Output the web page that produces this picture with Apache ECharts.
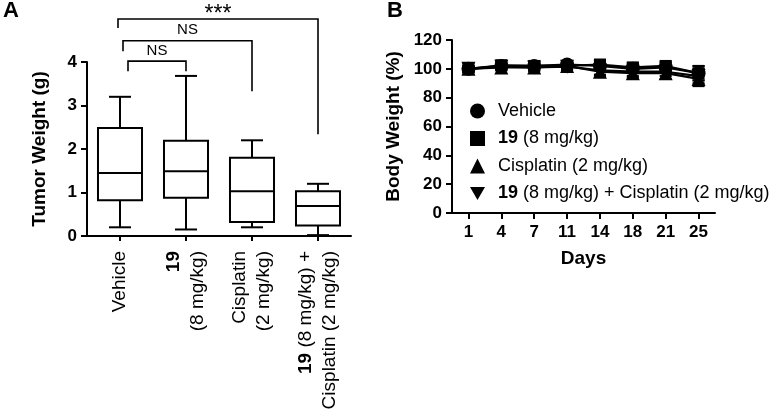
<!DOCTYPE html>
<html><head><meta charset="utf-8">
<script src="https://cdn.jsdelivr.net/npm/echarts@6/dist/echarts.min.js"></script>
<style>html,body{margin:0;padding:0;background:#fff}#c{width:778px;height:418px}</style>
</head><body><div id="c"></div>
<script>
// ---- Panel A data ----
const groups = ['Vehicle', '19\n(8 mg/kg)', 'Cisplatin\n(2 mg/kg)', '19 (8 mg/kg) +\nCisplatin (2 mg/kg)'];
// [min, Q1, median, Q3, max]
const vehicleBox   = [0.2, 0.82, 1.45, 2.48, 3.2];
const cpd19Box     = [0.15, 0.88, 1.49, 2.19, 3.68];
const cisplatinBox = [0.2, 0.32, 1.03, 1.8, 2.2];
const comboBox     = [0.02, 0.24, 0.69, 1.03, 1.2];
const tumorTicks = [0, 1, 2, 3, 4];
// brackets: [fromIdx, toIdx, barY, leftLegEndY, rightLegEndY]
const bracketNS1  = [0, 1, 4.02, 3.79, 3.79];
const bracketNS2  = [0, 2, 4.49, 4.25, 3.33];
const bracketSig  = [0, 3, 4.99, 4.78, 2.34];
const bracketText = ['NS', 'NS', '***'];

// ---- Panel B data ----
const days = ['1', '4', '7', '11', '14', '18', '21', '25'];
const vehicleBW   = [100, 102, 102, 103, 102, 100, 101, 97];
const cpd19BW     = [100, 102.5, 102, 102, 103, 101, 102, 97];
const cisplatinBW = [100, 101, 101, 102, 98, 97, 97, 93];
const comboBW     = [100, 101.5, 101, 101.5, 99, 98, 98, 95];
const vehicleSD   = [2, 2, 2, 2, 3, 3, 3, 5];
const cpd19SD     = [2, 2, 2, 2, 3, 3, 3, 5];
const cisplatinSD = [2, 2, 2, 2, 3, 3, 4, 5];
const comboSD     = [2, 2, 2, 2, 3, 3, 3, 5];
const bwNames = ['Vehicle', '19 (8 mg/kg)', 'Cisplatin (2 mg/kg)', '19 (8 mg/kg) + Cisplatin (2 mg/kg)'];

const FONT = 'Liberation Sans, Arial, Helvetica, sans-serif';
const INV_TRI = 'path://M0,0L10,0L5,8.66Z';

const chart = echarts.init(document.getElementById('c'), null, {renderer: 'canvas'});

const boxes = [vehicleBox, cpd19Box, cisplatinBox, comboBox];
const brackets = [bracketNS1, bracketNS2, bracketSig];
const bracketLeftOffset = [8, 3, -2];

function boxRender(params, api) {
  const i = api.value(0);
  const cx = api.coord([i, 0])[0];
  const bw = api.size([1, 0])[0] * 0.667;
  const y = k => api.coord([i, api.value(k)])[1];
  const yMin = y(1), yQ1 = y(2), yMed = y(3), yQ3 = y(4), yMax = y(5);
  const st = {stroke: '#000', lineWidth: 2, fill: null};
  const cap = bw / 4;
  return {type: 'group', children: [
    {type: 'line', shape: {x1: cx, y1: yQ3, x2: cx, y2: yMax}, style: st},
    {type: 'line', shape: {x1: cx, y1: yQ1, x2: cx, y2: yMin}, style: st},
    {type: 'line', shape: {x1: cx - cap, y1: yMax, x2: cx + cap, y2: yMax}, style: st},
    {type: 'line', shape: {x1: cx - cap, y1: yMin, x2: cx + cap, y2: yMin}, style: st},
    {type: 'rect', shape: {x: cx - bw / 2, y: yQ3, width: bw, height: yQ1 - yQ3}, style: {stroke: '#000', lineWidth: 2, fill: '#fff'}},
    {type: 'line', shape: {x1: cx - bw / 2, y1: yMed, x2: cx + bw / 2, y2: yMed}, style: st}
  ]};
}

function bracketRender(params, api) {
  const idx = params.dataIndex;
  const a = api.value(0), b = api.value(1);
  const xl = api.coord([a, 0])[0] + bracketLeftOffset[idx];
  const xr = api.coord([b, 0])[0];
  const yb = api.coord([a, api.value(2)])[1];
  const yl = api.coord([a, api.value(3)])[1];
  const yr = api.coord([a, api.value(4)])[1];
  const st = {stroke: '#000', lineWidth: 1.6, fill: null};
  const txt = bracketText[idx];
  const star = txt === '***';
  return {type: 'group', children: [
    {type: 'polyline', shape: {points: [[xl, yl], [xl, yb], [xr, yb], [xr, yr]]}, style: st},
    {type: 'text', x: (xl + xr) / 2, y: star ? yb + 7 : yb - 3,
     style: {text: txt, fill: '#000', font: (star ? '23px ' : '15px ') + FONT,
       textAlign: 'center', textVerticalAlign: 'bottom'}}
  ]};
}

function errRender(params, api) {
  const i = api.value(0);
  const cx = api.coord([i, 0])[0];
  const yl = api.coord([i, api.value(1)])[1];
  const yh = api.coord([i, api.value(2)])[1];
  const st = {stroke: '#000', lineWidth: 2};
  return {type: 'group', children: [
    {type: 'line', shape: {x1: cx, y1: yl, x2: cx, y2: yh}, style: st},
    {type: 'line', shape: {x1: cx - 6, y1: yl, x2: cx + 6, y2: yl}, style: st},
    {type: 'line', shape: {x1: cx - 6, y1: yh, x2: cx + 6, y2: yh}, style: st}
  ]};
}

const bwSeries = [vehicleBW, cpd19BW, cisplatinBW, comboBW];
const bwSD = [vehicleSD, cpd19SD, cisplatinSD, comboSD];
const bwSymbols = ['circle', 'rect', 'triangle', INV_TRI];

const series = [
  {type: 'custom', xAxisIndex: 0, yAxisIndex: 0, renderItem: boxRender,
   data: boxes.map((b, i) => [i].concat(b)), encode: {x: 0, y: [1, 2, 3, 4, 5]}, clip: false, silent: true},
  {type: 'custom', xAxisIndex: 0, yAxisIndex: 0, renderItem: bracketRender,
   data: brackets.map(b => b.slice()), encode: {x: [0, 1], y: [2, 3, 4]}, clip: false, silent: true}
];
bwSeries.forEach((vals, s) => {
  series.push({type: 'custom', xAxisIndex: 1, yAxisIndex: 1, renderItem: errRender, z: 1,
    data: vals.map((v, i) => [i, v - bwSD[s][i], v + bwSD[s][i]]), encode: {x: 0, y: [1, 2]}, silent: true});
});
bwSeries.forEach((vals, s) => {
  series.push({type: 'line', name: bwNames[s], xAxisIndex: 1, yAxisIndex: 1, z: 3,
    data: vals, symbol: bwSymbols[s], symbolSize: s === 1 ? 12 : 14, showAllSymbol: true,
    lineStyle: {color: '#000', width: 2.2}, itemStyle: {color: '#000', borderWidth: 0}, silent: true});
});

const axisLine = {show: true, lineStyle: {color: '#000', width: 2}};
const axisTick = {show: true, length: 6, lineStyle: {color: '#000', width: 2}};
const boldLabel = {color: '#000', fontFamily: FONT, fontWeight: 'bold', fontSize: 17};
const XF = 19;
const bold19 = {fontWeight: 'bold', fontFamily: FONT, fontSize: XF, color: '#000', lineHeight: 24};
const norm = {fontWeight: 'normal', fontFamily: FONT, fontSize: XF, color: '#000', lineHeight: 24};

function richName(name) {
  return name.split('\n').map(line => {
    if (line.indexOf('19') === 0) return '{b|19}{n|' + line.slice(2) + '}';
    return '{n|' + line + '}';
  }).join('\n');
}

const option = {
  backgroundColor: '#fff',
  animation: false,
  title: [
    {text: 'A', left: 3, top: 0, padding: 0, textStyle: {fontFamily: FONT, fontWeight: 'bold', fontSize: 22, color: '#000'}},
    {text: 'B', left: 387, top: 0, padding: 0, textStyle: {fontFamily: FONT, fontWeight: 'bold', fontSize: 22, color: '#000'}}
  ],
  grid: [
    {left: 87, top: 62, width: 264, height: 174, containLabel: false},
    {left: 452, top: 40, width: 263, height: 173, containLabel: false}
  ],
  xAxis: [
    {type: 'category', gridIndex: 0, data: groups, axisLine, boundaryGap: true,
     axisTick: {show: true, alignWithLabel: true, length: 5, lineStyle: {color: '#000', width: 2}},
     axisLabel: {rotate: 90, margin: 15, interval: 0, formatter: v => richName(v), lineHeight: 24,
       rich: {b: bold19, n: norm}}},
    {type: 'category', gridIndex: 1, data: days, axisLine, boundaryGap: true,
     axisTick: {show: true, alignWithLabel: true, length: 6, lineStyle: {color: '#000', width: 2}},
     axisLabel: Object.assign({margin: 11, interval: 0}, boldLabel),
     name: 'Days', nameLocation: 'middle', nameGap: 36,
     nameTextStyle: {fontFamily: FONT, fontWeight: 'bold', fontSize: 19, color: '#000'}}
  ],
  yAxis: [
    {type: 'value', gridIndex: 0, min: tumorTicks[0], max: tumorTicks[tumorTicks.length - 1], interval: 1,
     axisLine, axisTick, splitLine: {show: false}, axisLabel: Object.assign({margin: 10}, boldLabel),
     name: 'Tumor Weight (g)', nameLocation: 'middle', nameGap: 38,
     nameTextStyle: {fontFamily: FONT, fontWeight: 'bold', fontSize: 19, color: '#000'}},
    {type: 'value', gridIndex: 1, min: 0, max: 120, interval: 20,
     axisLine, axisTick, splitLine: {show: false}, axisLabel: Object.assign({margin: 10}, boldLabel),
     name: 'Body Weight (%)', nameLocation: 'middle', nameGap: 49,
     nameTextStyle: {fontFamily: FONT, fontWeight: 'bold', fontSize: 19, color: '#000'}}
  ],
  legend: {
    orient: 'vertical', left: 470, top: 102, padding: 0, itemWidth: 15, itemHeight: 15, itemGap: 9.5,
    selectedMode: false,
    data: bwNames.map((n, i) => ({name: n, icon: bwSymbols[i]})),
    itemStyle: {color: '#000', borderWidth: 0},
    lineStyle: {width: 0},
    formatter: name => richName(name),
    textStyle: {padding: [0, 0, 0, 8], fontFamily: FONT, fontSize: 18, color: '#000', lineHeight: 18,
      rich: {b: {fontWeight: 'bold', fontFamily: FONT, fontSize: 18, color: '#000', lineHeight: 18},
             n: {fontWeight: 'normal', fontFamily: FONT, fontSize: 18, color: '#000', lineHeight: 18}}}
  },
  series
};
chart.setOption(option);
</script>
</body></html>
